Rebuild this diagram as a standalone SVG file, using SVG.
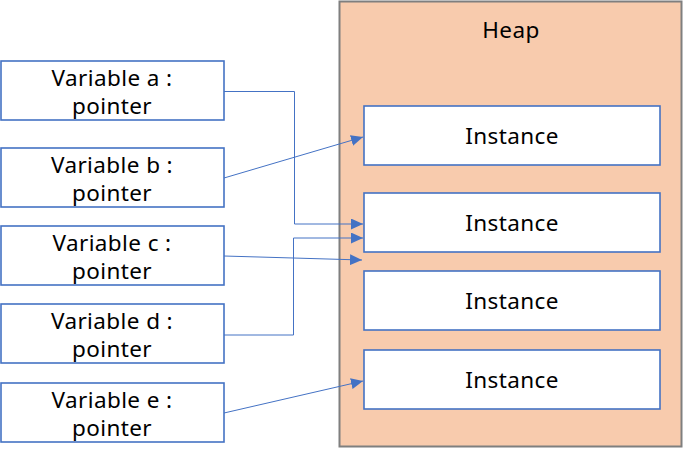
<svg xmlns="http://www.w3.org/2000/svg" width="683" height="458" viewBox="0 0 683 458">
<style>
.v{fill:#fff;stroke:#4472c4;stroke-width:1.6}
.i{fill:#fff;stroke:#4472c4;stroke-width:1.6}
.t{font-family:"Noto Sans","Open Sans",sans-serif;font-size:22.5px;letter-spacing:0.4px;fill:#000;text-anchor:middle}
.c{fill:none;stroke:#4472c4;stroke-width:1}
</style>
<defs>
<marker id="ah" markerWidth="12" markerHeight="11" refX="12" refY="5.5" orient="auto" markerUnits="userSpaceOnUse">
<path d="M0,0 L12,5.5 L0,11 Z" fill="#4472c4"/>
</marker>
</defs>
<rect width="683" height="458" fill="#fff"/>
<g id="heap">
<rect x="339.5" y="1.5" width="342" height="445" fill="#f8cbad" stroke="#7f7f7f" stroke-width="2"/>
<text class="t" x="511" y="38">Heap</text>
</g>
<g id="instance1"><rect class="i" x="364" y="106" width="296" height="59"/><text class="t" x="512" y="144">Instance</text></g>
<g id="instance2"><rect class="i" x="364" y="193" width="296" height="59"/><text class="t" x="512" y="231">Instance</text></g>
<g id="instance3"><rect class="i" x="364" y="271" width="296" height="59"/><text class="t" x="512" y="309">Instance</text></g>
<g id="instance4"><rect class="i" x="364" y="350" width="296" height="59"/><text class="t" x="512" y="388">Instance</text></g>
<g id="var-a"><rect class="v" x="1" y="61" width="223" height="59"/><text class="t" x="112" y="86">Variable a :</text><text class="t" x="112" y="114">pointer</text></g>
<g id="var-b"><rect class="v" x="1" y="148" width="223" height="59"/><text class="t" x="112" y="173">Variable b :</text><text class="t" x="112" y="201">pointer</text></g>
<g id="var-c"><rect class="v" x="1" y="226" width="223" height="59"/><text class="t" x="112" y="251">Variable c :</text><text class="t" x="112" y="279">pointer</text></g>
<g id="var-d"><rect class="v" x="1" y="304" width="223" height="59"/><text class="t" x="112" y="329">Variable d :</text><text class="t" x="112" y="357">pointer</text></g>
<g id="var-e"><rect class="v" x="1" y="383" width="223" height="59"/><text class="t" x="112" y="408">Variable e :</text><text class="t" x="112" y="436">pointer</text></g>
<g id="connectors">
<polyline class="c" points="224,91.5 294.5,91.5 294.5,224 363,224" marker-end="url(#ah)"/>
<line class="c" x1="224" y1="178" x2="363" y2="137" marker-end="url(#ah)"/>
<line class="c" x1="224" y1="256" x2="362" y2="260" marker-end="url(#ah)"/>
<polyline class="c" points="224,335 293.5,335 293.5,238 363,238" marker-end="url(#ah)"/>
<line class="c" x1="224" y1="413" x2="363" y2="381" marker-end="url(#ah)"/>
</g>
</svg>
